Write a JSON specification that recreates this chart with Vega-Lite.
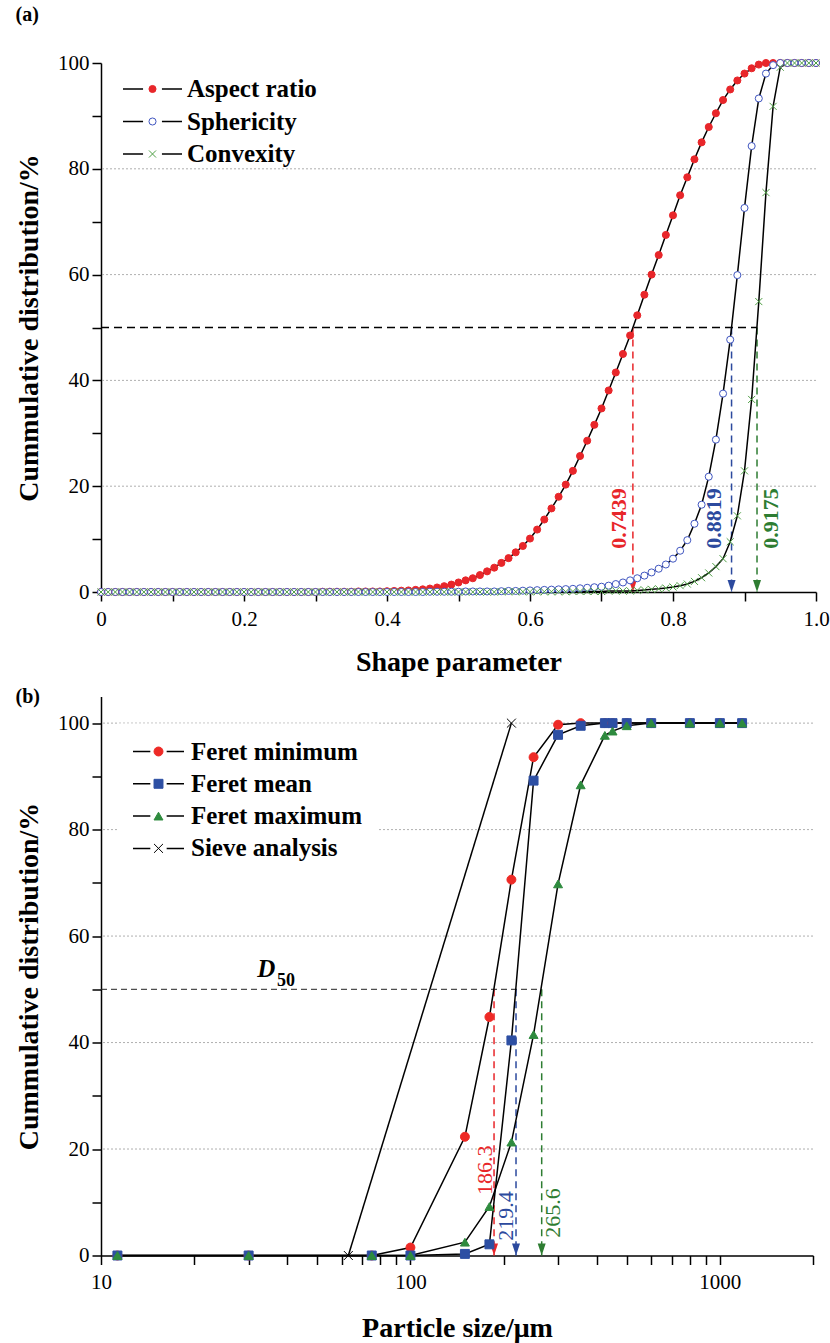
{
  "$schema": "https://vega.github.io/schema/vega-lite/v6.json",
  "background": "white",
  "padding": {"left": 15, "top": 5, "right": 0, "bottom": 0},
  "spacing": 10.5,
  "config": {
    "font": "Liberation Serif",
    "view": {"stroke": null},
    "title": {"font": "Liberation Serif", "fontSize": 20, "fontWeight": "bold", "anchor": "start", "frame": "bounds", "color": "#000"},
    "axis": {"domainColor": "#000", "tickColor": "#000", "labelColor": "#000", "titleColor": "#000", "labelFont": "Liberation Serif", "titleFont": "Liberation Serif", "labelFontSize": 21, "titleFontSize": 28, "titleFontWeight": "bold", "grid": false, "domainWidth": 1.5, "tickWidth": 1.5, "tickSize": 9, "labelFlush": false, "labelOverlap": false},
    "legend": {"labelFont": "Liberation Serif", "labelFontSize": 25, "labelFontWeight": "bold", "labelColor": "#000", "labelLimit": 400}
  },
  "datasets": {
    "a": [
      {"x":0,"Aspect ratio":0,"Sphericity":0,"Convexity":0},
      {"x":0.01,"Aspect ratio":0,"Sphericity":0,"Convexity":0},
      {"x":0.02,"Aspect ratio":0,"Sphericity":0,"Convexity":0},
      {"x":0.03,"Aspect ratio":0,"Sphericity":0,"Convexity":0},
      {"x":0.04,"Aspect ratio":0,"Sphericity":0,"Convexity":0},
      {"x":0.05,"Aspect ratio":0,"Sphericity":0,"Convexity":0},
      {"x":0.06,"Aspect ratio":0,"Sphericity":0,"Convexity":0},
      {"x":0.07,"Aspect ratio":0,"Sphericity":0,"Convexity":0},
      {"x":0.08,"Aspect ratio":0,"Sphericity":0,"Convexity":0},
      {"x":0.09,"Aspect ratio":0,"Sphericity":0,"Convexity":0},
      {"x":0.10,"Aspect ratio":0,"Sphericity":0,"Convexity":0},
      {"x":0.11,"Aspect ratio":0,"Sphericity":0,"Convexity":0},
      {"x":0.12,"Aspect ratio":0,"Sphericity":0,"Convexity":0},
      {"x":0.13,"Aspect ratio":0,"Sphericity":0,"Convexity":0},
      {"x":0.14,"Aspect ratio":0,"Sphericity":0,"Convexity":0},
      {"x":0.15,"Aspect ratio":0,"Sphericity":0,"Convexity":0},
      {"x":0.16,"Aspect ratio":0,"Sphericity":0,"Convexity":0},
      {"x":0.17,"Aspect ratio":0,"Sphericity":0,"Convexity":0},
      {"x":0.18,"Aspect ratio":0,"Sphericity":0,"Convexity":0},
      {"x":0.19,"Aspect ratio":0,"Sphericity":0,"Convexity":0},
      {"x":0.20,"Aspect ratio":0,"Sphericity":0,"Convexity":0},
      {"x":0.21,"Aspect ratio":0,"Sphericity":0,"Convexity":0},
      {"x":0.22,"Aspect ratio":0,"Sphericity":0,"Convexity":0},
      {"x":0.23,"Aspect ratio":0,"Sphericity":0,"Convexity":0},
      {"x":0.24,"Aspect ratio":0,"Sphericity":0,"Convexity":0},
      {"x":0.25,"Aspect ratio":0,"Sphericity":0,"Convexity":0},
      {"x":0.26,"Aspect ratio":0,"Sphericity":0,"Convexity":0},
      {"x":0.27,"Aspect ratio":0,"Sphericity":0,"Convexity":0},
      {"x":0.28,"Aspect ratio":0,"Sphericity":0,"Convexity":0},
      {"x":0.29,"Aspect ratio":0,"Sphericity":0,"Convexity":0},
      {"x":0.30,"Aspect ratio":0,"Sphericity":0,"Convexity":0},
      {"x":0.31,"Aspect ratio":0.05,"Sphericity":0,"Convexity":0},
      {"x":0.32,"Aspect ratio":0.05,"Sphericity":0,"Convexity":0},
      {"x":0.33,"Aspect ratio":0.05,"Sphericity":0,"Convexity":0},
      {"x":0.34,"Aspect ratio":0.05,"Sphericity":0,"Convexity":0},
      {"x":0.35,"Aspect ratio":0.05,"Sphericity":0,"Convexity":0},
      {"x":0.36,"Aspect ratio":0.1,"Sphericity":0,"Convexity":0},
      {"x":0.37,"Aspect ratio":0.1,"Sphericity":0,"Convexity":0},
      {"x":0.38,"Aspect ratio":0.1,"Sphericity":0,"Convexity":0},
      {"x":0.39,"Aspect ratio":0.1,"Sphericity":0,"Convexity":0},
      {"x":0.40,"Aspect ratio":0.15,"Sphericity":0,"Convexity":0},
      {"x":0.41,"Aspect ratio":0.2,"Sphericity":0,"Convexity":0},
      {"x":0.42,"Aspect ratio":0.25,"Sphericity":0,"Convexity":0},
      {"x":0.43,"Aspect ratio":0.3,"Sphericity":0,"Convexity":0},
      {"x":0.44,"Aspect ratio":0.4,"Sphericity":0,"Convexity":0},
      {"x":0.45,"Aspect ratio":0.5,"Sphericity":0,"Convexity":0},
      {"x":0.46,"Aspect ratio":0.65,"Sphericity":0.05,"Convexity":0},
      {"x":0.47,"Aspect ratio":0.85,"Sphericity":0.05,"Convexity":0},
      {"x":0.48,"Aspect ratio":1.1,"Sphericity":0.05,"Convexity":0},
      {"x":0.49,"Aspect ratio":1.4,"Sphericity":0.05,"Convexity":0},
      {"x":0.50,"Aspect ratio":1.8,"Sphericity":0.05,"Convexity":0},
      {"x":0.51,"Aspect ratio":2.2,"Sphericity":0.1,"Convexity":0},
      {"x":0.52,"Aspect ratio":2.6,"Sphericity":0.1,"Convexity":0},
      {"x":0.53,"Aspect ratio":3.2,"Sphericity":0.1,"Convexity":0},
      {"x":0.54,"Aspect ratio":3.9,"Sphericity":0.1,"Convexity":0},
      {"x":0.55,"Aspect ratio":4.6,"Sphericity":0.1,"Convexity":0},
      {"x":0.56,"Aspect ratio":5.5,"Sphericity":0.15,"Convexity":0.05},
      {"x":0.57,"Aspect ratio":6.4,"Sphericity":0.2,"Convexity":0.05},
      {"x":0.58,"Aspect ratio":7.5,"Sphericity":0.2,"Convexity":0.05},
      {"x":0.59,"Aspect ratio":8.7,"Sphericity":0.25,"Convexity":0.05},
      {"x":0.60,"Aspect ratio":10.1,"Sphericity":0.3,"Convexity":0.05},
      {"x":0.61,"Aspect ratio":11.8,"Sphericity":0.35,"Convexity":0.05},
      {"x":0.62,"Aspect ratio":13.7,"Sphericity":0.4,"Convexity":0.05},
      {"x":0.63,"Aspect ratio":15.8,"Sphericity":0.45,"Convexity":0.05},
      {"x":0.64,"Aspect ratio":18.0,"Sphericity":0.5,"Convexity":0.05},
      {"x":0.65,"Aspect ratio":20.3,"Sphericity":0.55,"Convexity":0.05},
      {"x":0.66,"Aspect ratio":22.9,"Sphericity":0.6,"Convexity":0.1},
      {"x":0.67,"Aspect ratio":25.7,"Sphericity":0.7,"Convexity":0.1},
      {"x":0.68,"Aspect ratio":28.6,"Sphericity":0.8,"Convexity":0.1},
      {"x":0.69,"Aspect ratio":31.6,"Sphericity":0.9,"Convexity":0.1},
      {"x":0.70,"Aspect ratio":34.7,"Sphericity":1.0,"Convexity":0.1},
      {"x":0.71,"Aspect ratio":38.1,"Sphericity":1.2,"Convexity":0.2},
      {"x":0.72,"Aspect ratio":41.5,"Sphericity":1.5,"Convexity":0.2},
      {"x":0.73,"Aspect ratio":45.0,"Sphericity":1.8,"Convexity":0.2},
      {"x":0.74,"Aspect ratio":48.5,"Sphericity":2.2,"Convexity":0.2},
      {"x":0.75,"Aspect ratio":52.3,"Sphericity":2.6,"Convexity":0.3},
      {"x":0.76,"Aspect ratio":56.2,"Sphericity":3.1,"Convexity":0.4},
      {"x":0.77,"Aspect ratio":60.0,"Sphericity":3.7,"Convexity":0.5},
      {"x":0.78,"Aspect ratio":63.7,"Sphericity":4.4,"Convexity":0.6},
      {"x":0.79,"Aspect ratio":67.5,"Sphericity":5.2,"Convexity":0.75},
      {"x":0.80,"Aspect ratio":71.2,"Sphericity":6.3,"Convexity":0.95},
      {"x":0.81,"Aspect ratio":75.0,"Sphericity":7.8,"Convexity":1.2},
      {"x":0.82,"Aspect ratio":78.4,"Sphericity":9.8,"Convexity":1.5},
      {"x":0.83,"Aspect ratio":81.8,"Sphericity":12.9,"Convexity":2.0},
      {"x":0.84,"Aspect ratio":85.0,"Sphericity":16.5,"Convexity":2.7},
      {"x":0.85,"Aspect ratio":87.9,"Sphericity":21.8,"Convexity":3.6},
      {"x":0.86,"Aspect ratio":90.5,"Sphericity":28.8,"Convexity":4.8},
      {"x":0.87,"Aspect ratio":93.0,"Sphericity":37.5,"Convexity":6.3},
      {"x":0.88,"Aspect ratio":95.0,"Sphericity":47.7,"Convexity":9.5},
      {"x":0.89,"Aspect ratio":96.7,"Sphericity":59.9,"Convexity":14.4},
      {"x":0.90,"Aspect ratio":98.0,"Sphericity":72.6,"Convexity":22.9},
      {"x":0.91,"Aspect ratio":99.0,"Sphericity":84.3,"Convexity":36.4},
      {"x":0.92,"Aspect ratio":99.7,"Sphericity":93.3,"Convexity":54.9},
      {"x":0.93,"Aspect ratio":100,"Sphericity":98.0,"Convexity":75.5},
      {"x":0.94,"Aspect ratio":100,"Sphericity":99.6,"Convexity":91.8},
      {"x":0.95,"Aspect ratio":100,"Sphericity":100,"Convexity":99.2},
      {"x":0.96,"Aspect ratio":100,"Sphericity":100,"Convexity":100},
      {"x":0.97,"Aspect ratio":100,"Sphericity":100,"Convexity":100},
      {"x":0.98,"Aspect ratio":100,"Sphericity":100,"Convexity":100},
      {"x":0.99,"Aspect ratio":100,"Sphericity":100,"Convexity":100},
      {"x":1.00,"Aspect ratio":100,"Sphericity":100,"Convexity":100}
    ],
    "annA": [
      {"v":0.7439,"lx":0.724,"ly":13.9,"t":"0.7439","c":"A"},
      {"v":0.8819,"lx":0.857,"ly":13.9,"t":"0.8819","c":"S"},
      {"v":0.9175,"lx":0.937,"ly":13.9,"t":"0.9175","c":"C"}
    ],
    "b": [
      {"x":11.3,"Feret minimum":0,"Feret mean":0,"Feret maximum":0},
      {"x":30,"Feret minimum":0,"Feret mean":0,"Feret maximum":0},
      {"x":63,"Sieve analysis":0},
      {"x":75,"Feret minimum":0,"Feret mean":0,"Feret maximum":0},
      {"x":100,"Feret minimum":1.5,"Feret mean":0,"Feret maximum":0},
      {"x":150,"Feret minimum":22.3,"Feret mean":0.3,"Feret maximum":2.5},
      {"x":180,"Feret minimum":44.8,"Feret mean":2.1,"Feret maximum":9.2},
      {"x":212,"Feret minimum":70.6,"Feret mean":40.4,"Feret maximum":21.3,"Sieve analysis":100},
      {"x":250,"Feret minimum":93.6,"Feret mean":89.2,"Feret maximum":41.5},
      {"x":300,"Feret minimum":99.7,"Feret mean":97.8,"Feret maximum":69.8},
      {"x":355,"Feret minimum":100,"Feret mean":99.5,"Feret maximum":88.4},
      {"x":425,"Feret minimum":100,"Feret mean":100,"Feret maximum":97.7},
      {"x":450,"Feret minimum":100,"Feret mean":100,"Feret maximum":98.5},
      {"x":500,"Feret minimum":100,"Feret mean":100,"Feret maximum":99.5},
      {"x":600,"Feret minimum":100,"Feret mean":100,"Feret maximum":100},
      {"x":800,"Feret minimum":100,"Feret mean":100,"Feret maximum":100},
      {"x":1000,"Feret minimum":100,"Feret mean":100,"Feret maximum":100},
      {"x":1180,"Feret minimum":100,"Feret mean":100,"Feret maximum":100}
    ],
    "annB": [
      {"v":186.3,"lx":174,"ly":16,"t":"186.3","c":"min"},
      {"v":219.4,"lx":203.5,"ly":7.4,"t":"219.4","c":"mean"},
      {"v":265.6,"lx":288,"ly":8.0,"t":"265.6","c":"max"}
    ]
  },
  "vconcat": [
    {
      "width": 715,
      "height": 529,
      "title": {"text": "(a)", "offset": 27},
      "resolve": {"scale": {"color": "independent", "fill": "independent", "stroke": "independent", "shape": "independent"}},
      "layer": [
        {
          "data": {"values": [{"g": 20}, {"g": 40}, {"g": 60}, {"g": 80}]},
          "mark": {"type": "rule", "color": "#9a9a9a", "strokeDash": [2, 2], "strokeWidth": 0.8},
          "encoding": {
            "y": {"field": "g", "type": "quantitative", "scale": {"domain": [0, 100], "nice": false},
              "axis": {"title": "Cummulative distribution/%", "values": [0,10,20,30,40,50,60,70,80,90,100], "labelExpr": "datum.value % 20 == 0 ? datum.label : ''", "labelPadding": 3, "titlePadding": 14}}
          }
        },
        {
          "data": {"values": [{"x": 0, "x2": 0.9175, "y": 50}]},
          "mark": {"type": "rule", "color": "#000", "strokeDash": [8, 5], "strokeWidth": 1.5},
          "encoding": {
            "x": {"field": "x", "type": "quantitative", "scale": {"domain": [0, 1], "nice": false},
              "axis": {"title": "Shape parameter", "values": [0,0.1,0.2,0.3,0.4,0.5,0.6,0.7,0.8,0.9,1.0], "labelExpr": "datum.value == 0 ? '0' : (round(datum.value*10) % 2 == 0 ? format(datum.value, '.1f') : '')", "labelPadding": 7, "titlePadding": 19}},
            "x2": {"field": "x2"},
            "y": {"field": "y", "type": "quantitative"}
          }
        },
        {
          "data": {"name": "annA"},
          "mark": {"type": "rule", "strokeDash": [7, 5], "strokeWidth": 1.5},
          "encoding": {
            "x": {"field": "v", "type": "quantitative"},
            "y": {"datum": 50},
            "y2": {"datum": 0},
            "color": {"field": "c", "type": "nominal", "scale": {"domain": ["A", "S", "C"], "range": ["#e8262a", "#2c4a9e", "#2e7d32"]}, "legend": null}
          }
        },
        {
          "data": {"name": "annA"},
          "mark": {"type": "point", "shape": "M-0.5,-1.5L0.5,-1.5L0,0Z", "size": 256, "filled": true, "opacity": 1},
          "encoding": {
            "x": {"field": "v", "type": "quantitative"},
            "y": {"datum": 0},
            "color": {"field": "c", "type": "nominal", "scale": {"domain": ["A", "S", "C"], "range": ["#e8262a", "#2c4a9e", "#2e7d32"]}, "legend": null}
          }
        },
        {
          "data": {"name": "annA"},
          "mark": {"type": "text", "angle": 270, "fontSize": 22, "fontWeight": "bold", "align": "center", "baseline": "middle"},
          "encoding": {
            "x": {"field": "lx", "type": "quantitative"},
            "y": {"field": "ly", "type": "quantitative"},
            "text": {"field": "t"},
            "color": {"field": "c", "type": "nominal", "scale": {"domain": ["A", "S", "C"], "range": ["#e8262a", "#2c4a9e", "#2e7d32"]}, "legend": null}
          }
        },
        {
          "data": {"name": "a"},
          "transform": [{"fold": ["Aspect ratio", "Sphericity", "Convexity"], "as": ["series", "y"]}],
          "mark": {"type": "line", "strokeWidth": 1.5},
          "encoding": {
            "x": {"field": "x", "type": "quantitative"},
            "y": {"field": "y", "type": "quantitative"},
            "color": {"field": "series", "type": "nominal", "scale": {"domain": ["Aspect ratio", "Sphericity", "Convexity"], "range": ["#000", "#000", "#000"]},
              "legend": {"title": null, "orient": "none", "legendX": 16, "legendY": 9, "padding": 5, "symbolType": "M-1,0H-0.32M0.32,0H1", "symbolSize": 3481, "symbolStrokeWidth": 1.5, "clipHeight": 24, "rowPadding": 7.5, "labelOffset": 4}}
          }
        },
        {
          "data": {"name": "a"},
          "transform": [{"fold": ["Aspect ratio", "Sphericity", "Convexity"], "as": ["marker", "y"]}],
          "mark": {"type": "point", "size": 50, "strokeWidth": 1, "opacity": 1},
          "encoding": {
            "x": {"field": "x", "type": "quantitative"},
            "y": {"field": "y", "type": "quantitative"},
            "fill": {"field": "marker", "type": "nominal", "scale": {"domain": ["Aspect ratio", "Sphericity", "Convexity"], "range": ["#e8262a", "#ffffff", "transparent"]},
              "legend": {"title": null, "orient": "none", "legendX": 34, "legendY": 9, "padding": 5, "symbolSize": 50, "symbolStrokeWidth": 1, "clipHeight": 24, "rowPadding": 7.5, "labelOffset": 6, "labelExpr": "''"}},
            "stroke": {"field": "marker", "type": "nominal", "scale": {"domain": ["Aspect ratio", "Sphericity", "Convexity"], "range": ["#e8262a", "#3f55c0", "#4f9f45"]},
              "legend": {"title": null, "orient": "none", "legendX": 34, "legendY": 9, "padding": 5, "symbolSize": 50, "symbolStrokeWidth": 1, "clipHeight": 24, "rowPadding": 7.5, "labelOffset": 6, "labelExpr": "''"}},
            "shape": {"field": "marker", "type": "nominal", "scale": {"domain": ["Aspect ratio", "Sphericity", "Convexity"], "range": ["circle", "circle", "M-1,-1L1,1M-1,1L1,-1"]},
              "legend": {"title": null, "orient": "none", "legendX": 34, "legendY": 9, "padding": 5, "symbolSize": 50, "symbolStrokeWidth": 1, "clipHeight": 24, "rowPadding": 7.5, "labelOffset": 6, "labelExpr": "''"}}
          }
        }
      ]
    },
    {
      "width": 712,
      "height": 559,
      "title": {"text": "(b)", "offset": -10},
      "resolve": {"scale": {"color": "independent", "fill": "independent", "stroke": "independent", "shape": "independent"}},
      "layer": [
        {
          "data": {"values": [{"g": 20}, {"g": 40}, {"g": 60}, {"g": 80}, {"g": 100}]},
          "mark": {"type": "rule", "color": "#9a9a9a", "strokeDash": [2, 2], "strokeWidth": 0.8},
          "encoding": {
            "y": {"field": "g", "type": "quantitative", "scale": {"domain": [0, 105], "nice": false},
              "axis": {"title": "Cummulative distribution/%", "values": [0,10,20,30,40,50,60,70,80,90,100], "labelExpr": "datum.value % 20 == 0 ? datum.label : ''", "labelPadding": 3, "titlePadding": 14}}
          }
        },
        {
          "data": {"values": [{"x": 10, "x2": 265.6, "y": 50}]},
          "mark": {"type": "rule", "color": "#222", "strokeDash": [6, 4], "strokeWidth": 1},
          "encoding": {
            "x": {"field": "x", "type": "quantitative", "scale": {"type": "log", "domain": [10, 2000], "nice": false},
              "axis": {"title": "Particle size/μm", "values": [10,20,30,40,50,60,70,80,90,100,200,300,400,500,600,700,800,900,1000,2000], "format": "d", "labelExpr": "datum.value == 10 || datum.value == 100 || datum.value == 1000 ? datum.label : ''", "labelPadding": 7, "titlePadding": 22}},
            "x2": {"field": "x2"},
            "y": {"field": "y", "type": "quantitative"}
          }
        },
        {
          "data": {"values": [{"x": 34.2, "y": 53.8, "t": "D"}]},
          "mark": {"type": "text", "fontSize": 25, "fontWeight": "bold", "fontStyle": "italic", "align": "center", "baseline": "middle", "color": "#000"},
          "encoding": {
            "x": {"field": "x", "type": "quantitative"},
            "y": {"field": "y", "type": "quantitative"},
            "text": {"field": "t"}
          }
        },
        {
          "data": {"values": [{"x": 39.6, "y": 51.6, "t": "50"}]},
          "mark": {"type": "text", "fontSize": 18, "fontWeight": "bold", "align": "center", "baseline": "middle", "color": "#000"},
          "encoding": {
            "x": {"field": "x", "type": "quantitative"},
            "y": {"field": "y", "type": "quantitative"},
            "text": {"field": "t"}
          }
        },
        {
          "data": {"name": "annB"},
          "mark": {"type": "rule", "strokeDash": [7, 5], "strokeWidth": 1.5},
          "encoding": {
            "x": {"field": "v", "type": "quantitative"},
            "y": {"datum": 50},
            "y2": {"datum": 0},
            "color": {"field": "c", "type": "nominal", "scale": {"domain": ["min", "mean", "max"], "range": ["#e8262a", "#2c4a9e", "#2e7d32"]}, "legend": null}
          }
        },
        {
          "data": {"name": "annB"},
          "mark": {"type": "point", "shape": "M-0.5,-1.5L0.5,-1.5L0,0Z", "size": 256, "filled": true, "opacity": 1},
          "encoding": {
            "x": {"field": "v", "type": "quantitative"},
            "y": {"datum": 0},
            "color": {"field": "c", "type": "nominal", "scale": {"domain": ["min", "mean", "max"], "range": ["#e8262a", "#2c4a9e", "#2e7d32"]}, "legend": null}
          }
        },
        {
          "data": {"name": "annB"},
          "mark": {"type": "text", "angle": 270, "fontSize": 22, "align": "center", "baseline": "middle"},
          "encoding": {
            "x": {"field": "lx", "type": "quantitative"},
            "y": {"field": "ly", "type": "quantitative"},
            "text": {"field": "t"},
            "color": {"field": "c", "type": "nominal", "scale": {"domain": ["min", "mean", "max"], "range": ["#e8262a", "#2c4a9e", "#2e7d32"]}, "legend": null}
          }
        },
        {
          "data": {"name": "b"},
          "transform": [{"fold": ["Feret minimum", "Feret mean", "Feret maximum", "Sieve analysis"], "as": ["series", "y"]}, {"filter": "isValid(datum.y)"}],
          "mark": {"type": "line", "strokeWidth": 1.5},
          "encoding": {
            "x": {"field": "x", "type": "quantitative"},
            "y": {"field": "y", "type": "quantitative"},
            "color": {"field": "series", "type": "nominal", "scale": {"domain": ["Feret minimum", "Feret mean", "Feret maximum", "Sieve analysis"], "range": ["#000", "#000", "#000", "#000"]},
              "legend": {"title": null, "orient": "none", "legendX": 16, "legendY": 27, "padding": 15, "fillColor": "#ffffff", "symbolType": "M-1,0H-0.32M0.32,0H1", "symbolSize": 2601, "symbolStrokeWidth": 1.5, "clipHeight": 26, "rowPadding": 6.3, "labelOffset": 6}}
          }
        },
        {
          "data": {"name": "b"},
          "transform": [{"fold": ["Feret minimum", "Feret mean", "Feret maximum", "Sieve analysis"], "as": ["marker", "y"]}, {"filter": "isValid(datum.y)"}],
          "mark": {"type": "point", "size": 80, "strokeWidth": 1, "opacity": 1},
          "encoding": {
            "x": {"field": "x", "type": "quantitative"},
            "y": {"field": "y", "type": "quantitative"},
            "fill": {"field": "marker", "type": "nominal", "scale": {"domain": ["Feret minimum", "Feret mean", "Feret maximum", "Sieve analysis"], "range": ["#ee2a26", "#2d4fa3", "#2e8b3e", "transparent"]},
              "legend": {"title": null, "orient": "none", "legendX": 30, "legendY": 27, "padding": 15, "symbolSize": 80, "symbolStrokeWidth": 1, "clipHeight": 26, "rowPadding": 6.3, "labelOffset": 6, "labelExpr": "''"}},
            "stroke": {"field": "marker", "type": "nominal", "scale": {"domain": ["Feret minimum", "Feret mean", "Feret maximum", "Sieve analysis"], "range": ["#ee2a26", "#2d4fa3", "#2e8b3e", "#000000"]},
              "legend": {"title": null, "orient": "none", "legendX": 30, "legendY": 27, "padding": 15, "symbolSize": 80, "symbolStrokeWidth": 1, "clipHeight": 26, "rowPadding": 6.3, "labelOffset": 6, "labelExpr": "''"}},
            "shape": {"field": "marker", "type": "nominal", "scale": {"domain": ["Feret minimum", "Feret mean", "Feret maximum", "Sieve analysis"], "range": ["circle", "square", "triangle-up", "M-1,-1L1,1M-1,1L1,-1"]},
              "legend": {"title": null, "orient": "none", "legendX": 30, "legendY": 27, "padding": 15, "symbolSize": 80, "symbolStrokeWidth": 1, "clipHeight": 26, "rowPadding": 6.3, "labelOffset": 6, "labelExpr": "''"}}
          }
        }
      ]
    }
  ]
}
